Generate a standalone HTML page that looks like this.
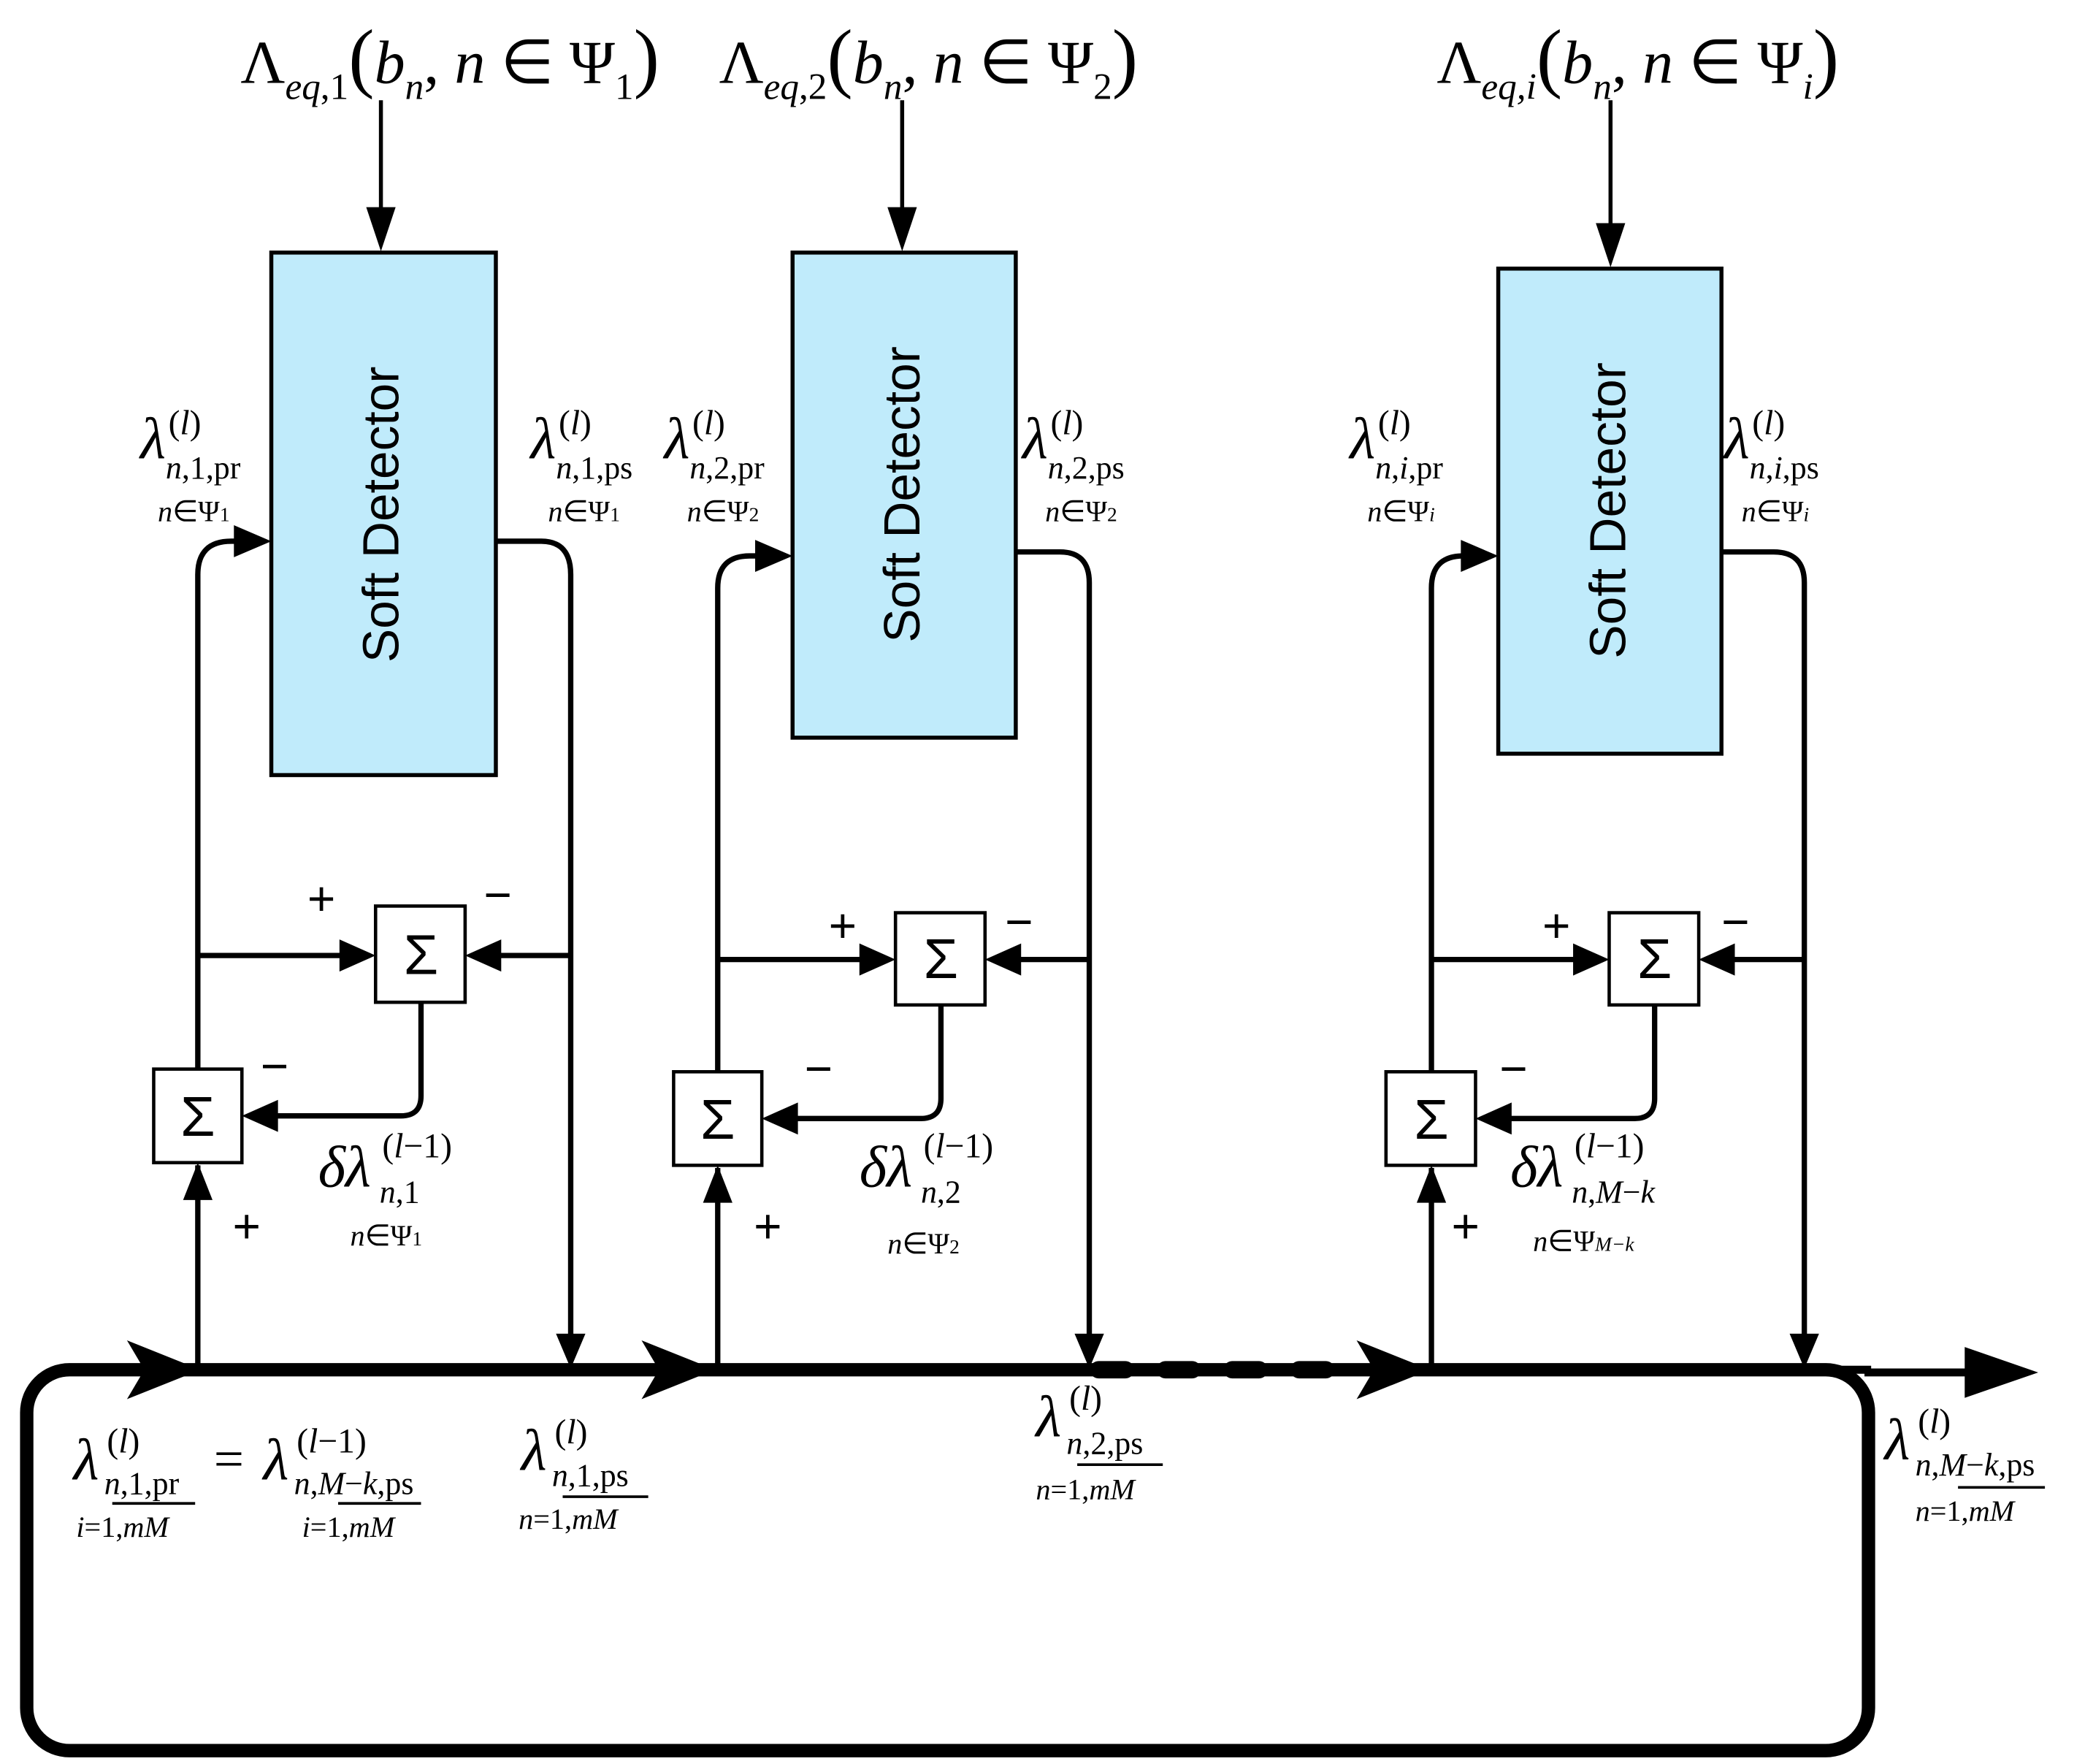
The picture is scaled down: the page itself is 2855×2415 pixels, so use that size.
<!DOCTYPE html>
<html><head><meta charset="utf-8"><style>
html,body{margin:0;padding:0;background:#fff}
svg{display:block}
text{font-family:"Liberation Serif",serif;fill:#000}
.i{font-style:italic}
.s text,text.s{font-family:"Liberation Sans",sans-serif}
</style></head><body>
<svg width="2855" height="2415" viewBox="0 0 1560 1320" preserveAspectRatio="none" xmlns="http://www.w3.org/2000/svg">
<g stroke="#000" fill="none">
<rect x="20" y="1025" width="1378" height="285" rx="32" stroke-width="10"/>
<line x1="1395" y1="1027" x2="1480" y2="1027" stroke-width="6"/>
<line x1="50" y1="1025" x2="815" y2="1025" stroke-width="6"/>
<line x1="822" y1="1025" x2="1005" y2="1025" stroke-width="13" stroke-linecap="round" stroke-dasharray="20,30"/>
<line x1="1025" y1="1025" x2="1400" y2="1025" stroke-width="6"/>
<line x1="285" y1="75" x2="285" y2="160" stroke-width="3"/>
<line x1="675" y1="75" x2="675" y2="160" stroke-width="3"/>
<line x1="1205" y1="75" x2="1205" y2="172" stroke-width="3"/>
</g>
<g fill="#000">
<path d="M274,155 L296,155 L285,188z"/>
<path d="M664,155 L686,155 L675,188z"/>
<path d="M1194,167 L1216,167 L1205,200z"/>
<path d="M95,1003 L150,1025 L95,1047 L108,1025z"/>
<path d="M480,1003 L535,1025 L480,1047 L493,1025z"/>
<path d="M1015,1003 L1070,1025 L1015,1047 L1028,1025z"/>
<path d="M1470,1008 L1525,1027 L1470,1046z"/>
</g>
<g stroke="#000" stroke-width="3" fill="#c0ebfb">
<rect x="203" y="189" width="168" height="391"/>
<rect x="593" y="189" width="167" height="363"/>
<rect x="1121" y="201" width="167" height="363"/>
</g>
<g font-size="38" class="s">
<text transform="translate(298,385) rotate(-90)" text-anchor="middle">Soft Detector</text>
<text transform="translate(688,370) rotate(-90)" text-anchor="middle">Soft Detector</text>
<text transform="translate(1216,382) rotate(-90)" text-anchor="middle">Soft Detector</text>
</g>
<g stroke="#000" stroke-width="4" fill="none">
<path d="M148,1025 V872"/>
<path d="M148,800 V430 Q148,405 173,405 H196"/>
<path d="M371,405 H405 Q427,405 427,430 V1005"/>
<path d="M148,715 H272"/>
<path d="M427,715 H357"/>
<path d="M315,750 V820 Q315,835 300,835 H190"/>
<path d="M537,1025 V874"/>
<path d="M537,802 V440 Q537,416 561,416 H585"/>
<path d="M760,413 H793 Q815,413 815,436 V1005"/>
<path d="M537,718 H661"/>
<path d="M815,718 H746"/>
<path d="M704,752 V822 Q704,837 689,837 H579"/>
<path d="M1071,1025 V874"/>
<path d="M1071,802 V440 Q1071,416 1095,416 H1113"/>
<path d="M1288,413 H1327 Q1350,413 1350,436 V1005"/>
<path d="M1071,718 H1195"/>
<path d="M1350,718 H1280"/>
<path d="M1238,752 V822 Q1238,837 1223,837 H1113"/>
</g>
<g fill="#000">
<path d="M137,898 L159,898 L148,870z"/>
<path d="M526,900 L548,900 L537,872z"/>
<path d="M1060,900 L1082,900 L1071,872z"/>
<path d="M175,393 L203,405 L175,417z"/>
<path d="M565,404 L593,416 L565,428z"/>
<path d="M1093,404 L1121,416 L1093,428z"/>
<path d="M416,998 L438,998 L427,1024z"/>
<path d="M804,998 L826,998 L815,1024z"/>
<path d="M1339,998 L1361,998 L1350,1024z"/>
<path d="M254,703 L281,715 L254,727z"/>
<path d="M375,703 L348,715 L375,727z"/>
<path d="M643,706 L670,718 L643,730z"/>
<path d="M764,706 L737,718 L764,730z"/>
<path d="M1177,706 L1204,718 L1177,730z"/>
<path d="M1298,706 L1271,718 L1298,730z"/>
<path d="M208,823 L181,835 L208,847z"/>
<path d="M597,825 L570,837 L597,849z"/>
<path d="M1131,825 L1104,837 L1131,849z"/>
</g>
<g stroke="#000" stroke-width="2.5" fill="#fff">
<rect x="115" y="800" width="66" height="70"/>
<rect x="281" y="678" width="67" height="72"/>
<rect x="504" y="802" width="66" height="70"/>
<rect x="670" y="683" width="67" height="69"/>
<rect x="1037" y="802" width="67" height="70"/>
<rect x="1204" y="683" width="67" height="69"/>
</g>
<g font-size="42" class="s" text-anchor="middle">
<text x="148" y="850">Σ</text><text x="315" y="729">Σ</text>
<text x="537" y="852">Σ</text><text x="704" y="732">Σ</text>
<text x="1071" y="852">Σ</text><text x="1238" y="732">Σ</text>
</g>
<g font-size="36" class="s">
<text x="230" y="685">+</text><text x="362" y="682">−</text>
<text x="195" y="810">−</text><text x="174" y="930">+</text>
<text x="620" y="705">+</text><text x="752" y="702">−</text>
<text x="602" y="812">−</text><text x="564" y="930">+</text>
<text x="1154" y="705">+</text><text x="1288" y="702">−</text>
<text x="1122" y="812">−</text><text x="1086" y="930">+</text>
</g>
<g font-size="46">
<text x="180" y="62">Λ<tspan class="i" font-size="28" dy="12">eq</tspan><tspan font-size="28">,1</tspan><tspan dy="-12" font-size="58">(</tspan><tspan class="i">b</tspan><tspan class="i" font-size="28" dy="12">n</tspan><tspan dy="-12">, </tspan><tspan class="i">n</tspan> ∈ Ψ<tspan font-size="28" dy="12">1</tspan><tspan dy="-12" font-size="58">)</tspan></text>
<text x="538" y="62">Λ<tspan class="i" font-size="28" dy="12">eq</tspan><tspan font-size="28">,2</tspan><tspan dy="-12" font-size="58">(</tspan><tspan class="i">b</tspan><tspan class="i" font-size="28" dy="12">n</tspan><tspan dy="-12">, </tspan><tspan class="i">n</tspan> ∈ Ψ<tspan font-size="28" dy="12">2</tspan><tspan dy="-12" font-size="58">)</tspan></text>
<text x="1075" y="62">Λ<tspan class="i" font-size="28" dy="12">eq,i</tspan><tspan dy="-12" font-size="58">(</tspan><tspan class="i">b</tspan><tspan class="i" font-size="28" dy="12">n</tspan><tspan dy="-12">, </tspan><tspan class="i">n</tspan> ∈ Ψ<tspan class="i" font-size="28" dy="12">i</tspan><tspan dy="-12" font-size="58">)</tspan></text>
</g>
<g font-size="24">
<g><text x="105" y="343" class="i" font-size="44">λ</text><text x="126" y="325" font-size="26">(<tspan class="i">l</tspan>)</text><text x="124" y="358"><tspan class="i">n</tspan>,1,pr</text><text x="118" y="390" font-size="22"><tspan class="i">n</tspan>∈Ψ<tspan font-size="15">1</tspan></text></g>
<g><text x="397" y="343" class="i" font-size="44">λ</text><text x="418" y="325" font-size="26">(<tspan class="i">l</tspan>)</text><text x="416" y="358"><tspan class="i">n</tspan>,1,ps</text><text x="410" y="390" font-size="22"><tspan class="i">n</tspan>∈Ψ<tspan font-size="15">1</tspan></text></g>
<g><text x="497" y="343" class="i" font-size="44">λ</text><text x="518" y="325" font-size="26">(<tspan class="i">l</tspan>)</text><text x="516" y="358"><tspan class="i">n</tspan>,2,pr</text><text x="514" y="390" font-size="22"><tspan class="i">n</tspan>∈Ψ<tspan font-size="15">2</tspan></text></g>
<g><text x="765" y="343" class="i" font-size="44">λ</text><text x="786" y="325" font-size="26">(<tspan class="i">l</tspan>)</text><text x="784" y="358"><tspan class="i">n</tspan>,2,ps</text><text x="782" y="390" font-size="22"><tspan class="i">n</tspan>∈Ψ<tspan font-size="15">2</tspan></text></g>
<g><text x="1010" y="343" class="i" font-size="44">λ</text><text x="1031" y="325" font-size="26">(<tspan class="i">l</tspan>)</text><text x="1029" y="358"><tspan class="i">n</tspan>,<tspan class="i">i</tspan>,pr</text><text x="1023" y="390" font-size="22"><tspan class="i">n</tspan>∈Ψ<tspan class="i" font-size="15">i</tspan></text></g>
<g><text x="1290" y="343" class="i" font-size="44">λ</text><text x="1311" y="325" font-size="26">(<tspan class="i">l</tspan>)</text><text x="1309" y="358"><tspan class="i">n</tspan>,<tspan class="i">i</tspan>,ps</text><text x="1303" y="390" font-size="22"><tspan class="i">n</tspan>∈Ψ<tspan class="i" font-size="15">i</tspan></text></g>
<g><text x="238" y="888" class="i" font-size="44">δλ</text><text x="286" y="866" font-size="26">(<tspan class="i">l</tspan>−1)</text><text x="284" y="900"><tspan class="i">n</tspan>,1</text><text x="262" y="932" font-size="22"><tspan class="i">n</tspan>∈Ψ<tspan font-size="15">1</tspan></text></g>
<g><text x="643" y="888" class="i" font-size="44">δλ</text><text x="691" y="866" font-size="26">(<tspan class="i">l</tspan>−1)</text><text x="689" y="900"><tspan class="i">n</tspan>,2</text><text x="664" y="938" font-size="22"><tspan class="i">n</tspan>∈Ψ<tspan font-size="15">2</tspan></text></g>
<g><text x="1130" y="888" class="i" font-size="44">δλ</text><text x="1178" y="866" font-size="26">(<tspan class="i">l</tspan>−1)</text><text x="1176" y="900"><tspan class="i">n</tspan>,<tspan class="i">M</tspan>−<tspan class="i">k</tspan></text><text x="1147" y="936" font-size="22"><tspan class="i">n</tspan>∈Ψ<tspan class="i" font-size="15">M−k</tspan></text></g>
<g><text x="55" y="1107" class="i" font-size="44">λ</text><text x="80" y="1087" font-size="26">(<tspan class="i">l</tspan>)</text><text x="78" y="1118"><tspan class="i">n</tspan>,1,pr</text><line x1="84" y1="1125" x2="146" y2="1125" stroke="#000" stroke-width="2"/><text x="57" y="1150" font-size="22"><tspan class="i">i</tspan>=1,<tspan class="i">mM</tspan></text></g>
<text x="160" y="1105" font-size="40">=</text>
<g><text x="197" y="1107" class="i" font-size="44">λ</text><text x="222" y="1087" font-size="26">(<tspan class="i">l</tspan>−1)</text><text x="220" y="1118"><tspan class="i">n</tspan>,<tspan class="i">M</tspan>−<tspan class="i">k</tspan>,ps</text><line x1="253" y1="1125" x2="315" y2="1125" stroke="#000" stroke-width="2"/><text x="226" y="1150" font-size="22"><tspan class="i">i</tspan>=1,<tspan class="i">mM</tspan></text></g>
<g><text x="390" y="1100" class="i" font-size="44">λ</text><text x="415" y="1080" font-size="26">(<tspan class="i">l</tspan>)</text><text x="413" y="1112"><tspan class="i">n</tspan>,1,ps</text><line x1="421" y1="1120" x2="485" y2="1120" stroke="#000" stroke-width="2"/><text x="388" y="1144" font-size="22"><tspan class="i">n</tspan>=1,<tspan class="i">mM</tspan></text></g>
<g><text x="775" y="1075" class="i" font-size="44">λ</text><text x="800" y="1055" font-size="26">(<tspan class="i">l</tspan>)</text><text x="798" y="1088"><tspan class="i">n</tspan>,2,ps</text><line x1="806" y1="1096" x2="870" y2="1096" stroke="#000" stroke-width="2"/><text x="775" y="1122" font-size="22"><tspan class="i">n</tspan>=1,<tspan class="i">mM</tspan></text></g>
<g><text x="1410" y="1092" class="i" font-size="44">λ</text><text x="1435" y="1072" font-size="26">(<tspan class="i">l</tspan>)</text><text x="1433" y="1104"><tspan class="i">n</tspan>,<tspan class="i">M</tspan>−<tspan class="i">k</tspan>,ps</text><line x1="1465" y1="1113" x2="1530" y2="1113" stroke="#000" stroke-width="2"/><text x="1433" y="1138" font-size="22"><tspan class="i">n</tspan>=1,<tspan class="i">mM</tspan></text></g>
</g>
</svg>
</body></html>
